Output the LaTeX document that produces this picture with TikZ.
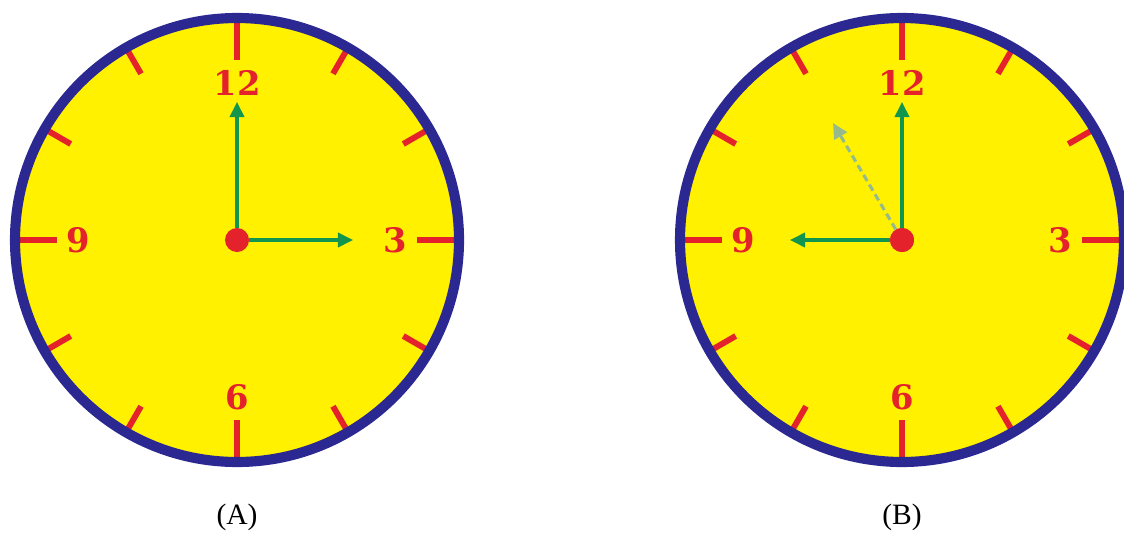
\documentclass[tikz,border=0pt]{standalone}
\usepackage{fontspec}
\setmainfont{Liberation Serif}
\newfontfamily\dialfont{DejaVu Serif}
\usepackage{tikz}
\usetikzlibrary{arrows.meta}
\usepackage{xcolor}
\definecolor{dialyellow}{RGB}{255, 241, 0}
\definecolor{rimblue}{RGB}{44, 40, 146}
\definecolor{markred}{RGB}{228, 34, 44}
\definecolor{handgreen}{RGB}{18, 150, 78}
\definecolor{ghostgreen}{RGB}{150, 186, 140}

\begin{document}
\begin{tikzpicture}[
  x=0.025cm, y=0.025cm,
  face/.style={fill=dialyellow},
  rim/.style={draw=rimblue, line width=7.2pt},
  hourmark/.style={draw=markred, line width=4.2pt},
  num/.style={text=markred, font=\dialfont\fontsize{24}{24}\selectfont\bfseries, inner sep=0pt},
  pivot/.style={circle, fill=markred, minimum size=0.6cm, inner sep=0pt},
  hand/.style={-{Triangle[length=0.38cm, width=0.36cm]}, draw=handgreen, line width=2.2pt},
  oldhand/.style={hand, draw=ghostgreen, dashed, dash pattern=on 5pt off 3pt},
  caption/.style={font=\fontsize{21}{21}\selectfont}
]
  \useasboundingbox (0,0) rectangle (1124,535);

  % two dials
  \foreach \c/\x in {a/237, b/902} {
    \begin{scope}[shift={(\x,295)}]
      \fill[face] (0,0) circle (222);
      \foreach \ang in {0,30,...,330}
        \draw[hourmark] (\ang:192) -- (\ang:224);
      \foreach \ang in {0,90,180,270}
        \draw[hourmark] (\ang:180) -- (\ang:224);
      \draw[rim] (0,0) circle (222);
      \node[num] (twelve\c) at (90:157) {12};
      \node[num] (three\c) at (0:158) {3};
      \node[num] (six\c) at (270:157) {6};
      \node[num] (nine\c) at (180:159) {9};
    \end{scope}
  }

  % clock A
  \node[pivot] (ca) at (237,295) {};
  \coordinate (ta) at (237,433);
  \coordinate (ra) at (353,295);
  \draw[hand] (ca) -- (ta);
  \draw[hand] (ca) -- (ra);
  \node[caption] (capa) at (237,18) {(A)};

  % clock B
  \node[pivot] (cb) at (902,295) {};
  \coordinate (tb) at (902,433);
  \coordinate (lb) at (790,295);
  \coordinate (ob) at (833,412);
  \draw[oldhand] (cb) -- (ob);
  \draw[hand] (cb) -- (tb);
  \draw[hand] (cb) -- (lb);
  \node[pivot] at (cb) {};
  \node[caption] (capb) at (902,18) {(B)};
\end{tikzpicture}
\end{document}
